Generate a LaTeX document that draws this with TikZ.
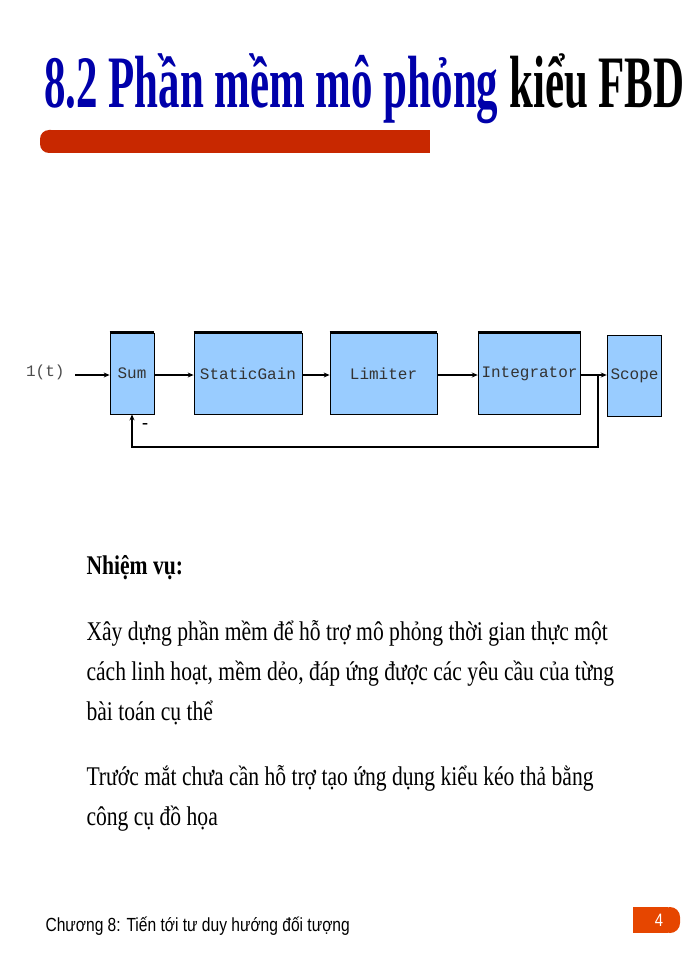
\documentclass[tikz,border=0pt]{standalone}
\usepackage{fontspec}
\setmainfont{Liberation Serif}
\newfontfamily\titlef[FakeStretch=0.58]{Liberation Serif}
\newfontfamily\bodyf[FakeStretch=0.8]{Liberation Serif}
\newfontfamily\footf[FakeStretch=0.82]{Liberation Sans}
\newfontfamily\monof{Liberation Mono}
\usetikzlibrary{arrows.meta}
\definecolor{titleblue}{RGB}{0,0,170}
\definecolor{barred}{RGB}{200,40,0}
\definecolor{boxblue}{RGB}{153,204,255}
\definecolor{pgorange}{RGB}{230,70,0}
\tikzset{
  blk/.style={draw=black, line width=0.8pt, fill=boxblue, font=\monof\fontsize{16}{16}\selectfont, text=black!80},
  conn/.style={line width=1.3pt, -{Stealth[length=6pt,width=5pt]}},
  body/.style={anchor=base west, font=\bodyf\fontsize{27}{27}\selectfont}
}
\begin{document}
\begin{tikzpicture}[x=1pt,y=-1pt]
\useasboundingbox (0,0) rectangle (700,960);
% title
\node[anchor=base west, inner sep=0, font=\titlef\bfseries\fontsize{74}{74}\selectfont] (title) at (44,108) {\textcolor{titleblue}{8.2 Phần mềm mô phỏng} kiểu FBD};
\fill[barred, rounded corners=9pt] (40,130) rectangle (60,153);
\fill[barred] (50,130) rectangle (430,153);
% blocks
\node[blk, minimum width=44, minimum height=81] (sum) at (132,373.5) {Sum};
\node[blk, minimum width=108, minimum height=81] (gain) at (248,373.5) {StaticGain};
\node[blk, minimum width=107, minimum height=81] (lim) at (383.5,373.5) {Limiter};
\node[blk, minimum width=101, minimum height=81] (int) at (529.5,373.5) {Integrator};
\node[blk, minimum width=49, minimum height=81] (scope) at (634.5,375.5) {Scope};
\foreach \n in {sum,gain,lim,int} \draw[line width=2.5pt] (\n.north west) -- (\n.north east);
\node[anchor=east, font=\monof\fontsize{16}{16}\selectfont, text=black!70] (in) at (68,372) {1(t)};
\coordinate (inr) at (75,375);
\draw[conn] (inr) -- (sum.west |- inr);
\draw[conn] (sum.east |- inr) -- (gain.west |- inr);
\draw[conn] (gain.east |- inr) -- (lim.west |- inr);
\draw[conn] (lim.east |- inr) -- (int.west |- inr);
\draw[conn] (int.east |- inr) -- (scope.west |- inr);
\coordinate (fb) at (598,375);
\draw[conn] (fb) -- (598,447) -- (132,447) -- (sum.south);
\node[font=\bfseries\fontsize{18}{18}\selectfont] (minus) at (145,426) {-};
% body text
\node[body, font=\bodyf\bfseries\fontsize{27}{27}\selectfont] (t0) at (83,574) {Nhiệm vụ:};
\node[body] (t1) at (83,640) {Xây dựng phần mềm để hỗ trợ mô phỏng thời gian thực một};
\node[body] (t2) at (83,680) {cách linh hoạt, mềm dẻo, đáp ứng được các yêu cầu của từng};
\node[body] (t3) at (83,720) {bài toán cụ thể};
\node[body] (t4) at (83,785) {Trước mắt chưa cần hỗ trợ tạo ứng dụng kiểu kéo thả bằng};
\node[body] (t5) at (83,825) {công cụ đồ họa};
% footer
\node[anchor=base west, font=\footf\fontsize{19}{19}\selectfont] (foot) at (42,931) {Chương 8: Tiến tới tư duy hướng đối tượng};
\fill[pgorange, rounded corners=10pt] (660,907) rectangle (680,933);
\fill[pgorange] (633,907) rectangle (668,933);
\node[text=white, font=\footf\fontsize{18}{18}\selectfont] (pg) at (659,920) {4};
\end{tikzpicture}
\end{document}
